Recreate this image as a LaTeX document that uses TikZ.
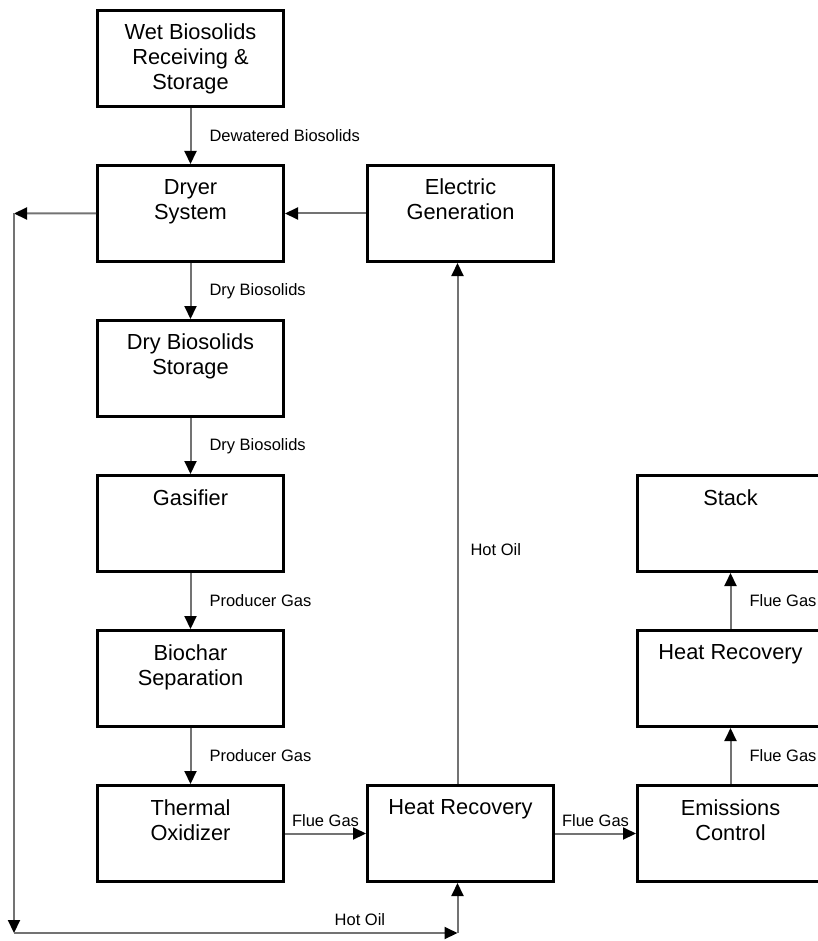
\documentclass[tikz,border=0pt]{standalone}
\usepackage{fontspec}
\setmainfont{Liberation Sans}
\usetikzlibrary{positioning,arrows.meta}
\definecolor{pipe}{gray}{0.45}
\begin{document}
\begin{tikzpicture}[x=1pt,y=-1pt,
    blk/.style={draw,line width=2.8pt,minimum width=186.2pt,minimum height=96.2pt,inner sep=0pt},
    ttl/.style={anchor=north,align=center,yshift=-15pt,inner sep=0pt,font=\fontsize{21.8}{25}\selectfont},
    flow/.style={draw=pipe,line width=2pt,-{Triangle[length=13pt,width=12pt,color=black]}},
    lbl/.style={font=\fontsize{16.5}{18}\selectfont,inner sep=0pt}]
  \useasboundingbox (0,0) rectangle (818,941);
  % left column
  \node[blk,label={[ttl]north:{Wet Biosolids\\Receiving \&\\Storage}}] (wet) at (190.5,58.5) {};
  \node[blk,below=56pt of wet,label={[ttl]north:{Dryer\\System}}] (dryer) {};
  \node[blk,below=56pt of dryer,label={[ttl]north:{Dry Biosolids\\Storage}}] (store) {};
  \node[blk,below=56pt of store,label={[ttl]north:{Gasifier}}] (gas) {};
  \node[blk,below=56pt of gas,label={[ttl]north:{Biochar\\Separation}}] (char) {};
  \node[blk,below=56pt of char,label={[ttl]north:{Thermal\\Oxidizer}}] (ox) {};
  % middle and right
  \node[blk,right=81pt of dryer,label={[ttl]north:{Electric\\Generation}}] (el) {};
  \node[blk,right=81pt of ox,label={[ttl]north:{Heat Recovery}}] (hr) {};
  \node[blk,right=81pt of hr,label={[ttl]north:{Emissions\\Control}}] (emis) {};
  \node[blk,above=56pt of emis,label={[ttl]north:{Heat Recovery}}] (hr2) {};
  \node[blk,above=56pt of hr2,label={[ttl]north:{Stack}}] (stack) {};
  % hot oil loop
  \coordinate (tl) at (14,213.5);
  \coordinate (bl) at (14,933);
  \coordinate (br) at ([xshift=-3pt]hr.south |- bl);

  \draw[flow] (wet) -- node[lbl,right=18pt]{Dewatered Biosolids} (dryer);
  \draw[flow] (dryer) -- node[lbl,right=18pt]{Dry Biosolids} (store);
  \draw[flow] (store) -- node[lbl,right=18pt]{Dry Biosolids} (gas);
  \draw[flow] (gas) -- node[lbl,right=18pt]{Producer Gas} (char);
  \draw[flow] (char) -- node[lbl,right=18pt]{Producer Gas} (ox);
  \draw[flow] (ox) -- node[lbl,above=6pt]{Flue Gas} (hr);
  \draw[flow] (hr) -- node[lbl,above=6pt]{Flue Gas} (emis);
  \draw[flow] (emis) -- node[lbl,right=18pt]{Flue Gas} (hr2);
  \draw[flow] (hr2) -- node[lbl,right=18pt]{Flue Gas} (stack);
  \draw[flow] ([xshift=-3pt]hr.north) -- node[lbl,right=12pt,pos=0.45]{Hot Oil} ([xshift=-3pt]el.south);
  \draw[flow] (el) -- (dryer);
  \draw[flow] (dryer) -- (tl);
  \draw[flow] (tl) -- (bl);
  \draw[flow] (bl) -- node[lbl,above=6pt,pos=0.78]{Hot Oil} (br);
  \draw[flow] (br) -- ([xshift=-3pt]hr.south);
\end{tikzpicture}
\end{document}
